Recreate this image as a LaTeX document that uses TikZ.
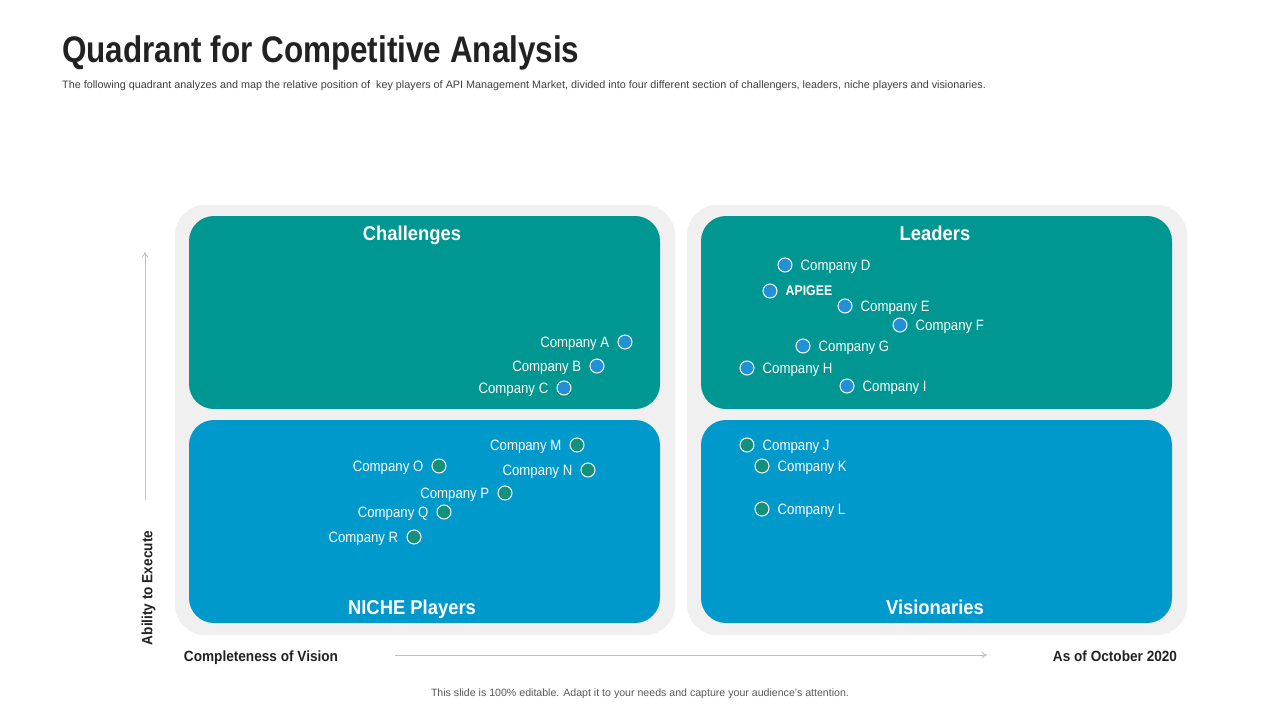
\documentclass[tikz,border=0pt]{standalone}
\usepackage{fontspec}
\setmainfont{Liberation Sans}
\newfontfamily\condA[FakeStretch=0.85]{Liberation Sans}
\newfontfamily\condB[FakeStretch=0.88]{Liberation Sans}
\newfontfamily\condC[FakeStretch=0.92]{Liberation Sans}
\usetikzlibrary{arrows.meta}
\definecolor{panelgray}{HTML}{F0F0F0}
\definecolor{tealq}{HTML}{009691}
\definecolor{blueq}{HTML}{0099CC}
\definecolor{mkblue}{HTML}{2290D4}
\definecolor{mkgreen}{HTML}{14917D}
\definecolor{titlec}{HTML}{222222}
\definecolor{subc}{HTML}{404040}
\definecolor{footc}{HTML}{595959}
\definecolor{axisc}{HTML}{BFBFBF}
\tikzset{
  panel/.style={fill=panelgray, draw=none, rounded corners=30pt, minimum width=500pt, minimum height=430pt, inner sep=0pt},
  quad/.style={draw=none, rounded corners=25pt, minimum width=471pt, inner sep=0pt},
  quadtitle/.style={text=white, font=\condC\bfseries\fontsize{20}{22}\selectfont, inner sep=0pt, text depth=0pt},
  mk/.style={circle, draw=white, line width=1pt, minimum size=14pt, inner sep=0pt},
  lbl/.style={text=white, font=\condB\fontsize{15}{17}\selectfont, inner sep=0pt, text depth=0pt},
  axislbl/.style={text=titlec, font=\condC\bfseries\fontsize{14.8}{16}\selectfont, inner sep=0pt, text depth=0pt},
  axisarrow/.style={draw=axisc, line width=0.8pt, -{To[length=5pt,width=6pt]}}
}
\newcommand{\qmarkR}[5]{\node[mk,fill=#5] (#1) at (#2,#3) {};
  \node[lbl,anchor=west] (#1t) at ([xshift=8pt]#1.east) {#4};}
\newcommand{\qmarkL}[5]{\node[mk,fill=#5] (#1) at (#2,#3) {};
  \node[lbl,anchor=east] (#1t) at ([xshift=-8pt]#1.west) {#4};}
\begin{document}
\begin{tikzpicture}[x=1pt,y=-1pt]
\useasboundingbox (0,0) rectangle (1280,720);
\fill[white] (0,0) rectangle (1280,720);
% title
\node[anchor=base west, inner sep=0pt, text=titlec, font=\condA\bfseries\fontsize{37}{40}\selectfont] (title) at (62,62) {Quadrant for Competitive Analysis};
\node[anchor=base west, inner sep=0pt, text=subc, font=\fontsize{10.8}{12}\selectfont] (sub) at (62,88) {The following quadrant analyzes and map the relative position of\ \ key players of API Management Market, divided into four different section of challengers, leaders, niche players and visionaries.};
% panels
\node[panel] (lp) at (425,420) {};
\node[panel] (rp) at (937,420) {};
% quadrants
\node[quad, fill=tealq, minimum height=193pt] (tl) at (424.5,312.5) {};
\node[quad, fill=blueq, minimum height=203pt] (bl) at (424.5,521.5) {};
\node[quad, fill=tealq, minimum height=193pt] (tr) at (936.5,312.5) {};
\node[quad, fill=blueq, minimum height=203pt] (br) at (936.5,521.5) {};
\node[quadtitle] (tlt) at (412,233) {Challenges};
\node[quadtitle] (trt) at (935,233) {Leaders};
\node[quadtitle] (blt) at (412,607) {NICHE Players};
\node[quadtitle] (brt) at (935,607) {Visionaries};
% challengers
\qmarkL{ca}{625}{342}{Company A}{mkblue}
\qmarkL{cb}{597}{366}{Company B}{mkblue}
\qmarkL{cc}{564}{388}{Company C}{mkblue}
% leaders
\qmarkR{cd}{785}{265}{Company D}{mkblue}
\node[mk,fill=mkblue] (ap) at (770,291) {};
\node[lbl,anchor=west,font=\condB\bfseries\fontsize{14}{16}\selectfont] (apt) at ([xshift=8pt]ap.east) {APIGEE};
\qmarkR{ce}{845}{306}{Company E}{mkblue}
\qmarkR{cf}{900}{325}{Company F}{mkblue}
\qmarkR{cg}{803}{346}{Company G}{mkblue}
\qmarkR{ch}{747}{368}{Company H}{mkblue}
\qmarkR{ci}{847}{386}{Company I}{mkblue}
% visionaries
\qmarkR{cj}{747}{445}{Company J}{mkgreen}
\qmarkR{ck}{762}{466}{Company K}{mkgreen}
\qmarkR{cl}{762}{509}{Company L}{mkgreen}
% niche
\qmarkL{cm}{577}{445}{Company M}{mkgreen}
\qmarkL{cn}{588}{470}{Company N}{mkgreen}
\qmarkL{co}{439}{466}{Company O}{mkgreen}
\qmarkL{cp}{505}{493}{Company P}{mkgreen}
\qmarkL{cq}{444}{512}{Company Q}{mkgreen}
\qmarkL{cr}{414}{537}{Company R}{mkgreen}
% axes
\coordinate (va) at (145,500);
\coordinate (vb) at (145,252);
\draw[axisarrow] (va) -- (vb);
\coordinate (ha) at (395,655);
\coordinate (hb) at (987,655);
\draw[axisarrow] (ha) -- (hb);
\node[axislbl, rotate=90] (ylab) at (147,588) {Ability to Execute};
\node[axislbl] (xlab) at (261,656) {Completeness of Vision};
\node[axislbl] (date) at (1115,656) {As of October 2020};
% footer
\node[inner sep=0pt, text=footc, font=\fontsize{10.6}{12}\selectfont] (foot) at (640,694) {This slide is 100\% editable. Adapt it to your needs and capture your audience's attention.};
\end{tikzpicture}
\end{document}
